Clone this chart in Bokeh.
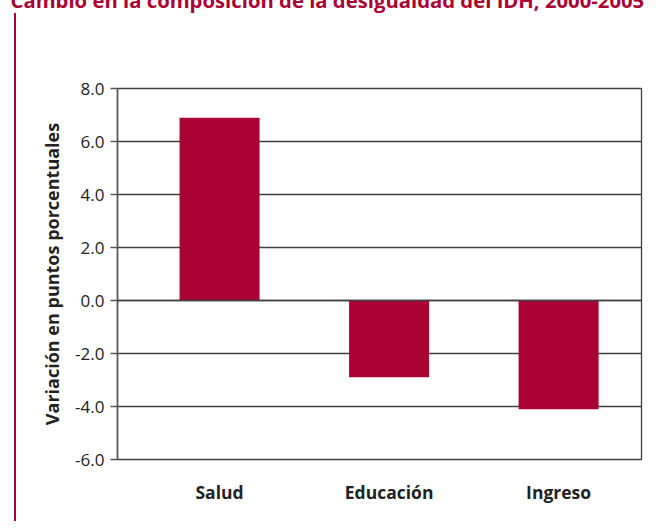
from bokeh.plotting import figure
from bokeh.models import (Range1d, FixedTicker, NumeralTickFormatter, Span,
                          ColumnDataSource)
from bokeh.embed import file_html
from bokeh.resources import INLINE

categories = ["Salud", "Educación", "Ingreso"]
values = [6.9, -2.9, -4.1]
y_ticks = [-6, -4, -2, 0, 2, 4, 6, 8]
title_text = "Cambio en la composición de la desigualdad del IDH, 2000-2005"
y_label = "Variación en puntos porcentuales"

FONT = "Open Sans"
RED = "#AB0234"
M = 92  # part of the canvas pushed above the page top (title is cut there, as in the reference)

xs = list(range(len(categories)))
src = ColumnDataSource(dict(x=xs, top=values, cat=categories))

p = figure(width=660, height=521 + M, output_backend="svg", toolbar_location=None,
           x_range=Range1d(-0.602, 2.489), y_range=Range1d(-6, 8),
           min_border_left=117, min_border_right=19, min_border_top=87 + M,
           min_border_bottom=62)
p.margin = (-M, 0, 0, 0)
p.border_fill_color = None
p.background_fill_color = "white"
p.styles = {
    "background-color": "#ffffff",
    "background-image": f"linear-gradient({RED}, {RED})",
    "background-size": "2px 100%",
    "background-position": f"14px {13 + M}px",
    "background-repeat": "no-repeat",
}

p.title.text = title_text
p.title.text_font = FONT
p.title.text_font_style = "bold"
p.title.text_font_size = "20.3px"
p.title.text_color = RED
p.title.align = "left"
p.title.vertical_align = "bottom"
p.title.offset = -107
p.title.standoff = 150

p.vbar(x="x", top="top", bottom=0, width=0.472, source=src,
       fill_color=RED, line_color=None)

p.add_layout(Span(location=0, dimension="width", line_color="#404040", line_width=1.3))

p.outline_line_color = "#404040"
p.outline_line_width = 1.3
p.xgrid.grid_line_color = None
p.ygrid.ticker = FixedTicker(ticks=y_ticks)
p.ygrid.grid_line_color = "#404040"
p.ygrid.grid_line_width = 1.3
p.ygrid.grid_line_alpha = 1.0

ya = p.yaxis[0]
ya.ticker = FixedTicker(ticks=y_ticks)
ya.formatter = NumeralTickFormatter(format="0.0")
ya.axis_line_color = "#555555"
ya.axis_line_width = 1.5
ya.major_tick_line_color = "#555555"
ya.major_tick_line_width = 1.3
ya.major_tick_out = 7
ya.major_tick_in = 0
ya.minor_tick_line_color = None
ya.major_label_text_font = FONT
ya.major_label_text_font_size = "17px"
ya.major_label_text_color = "#222222"
ya.major_label_standoff = 6
ya.axis_label = y_label
ya.axis_label_text_font = FONT
ya.axis_label_text_font_style = "bold"
ya.axis_label_text_font_size = "18px"
ya.axis_label_text_color = "#222222"
ya.axis_label_standoff = 8

xa = p.xaxis[0]
xa.ticker = FixedTicker(ticks=xs)
xa.major_label_overrides = {i: c for i, c in zip(xs, categories)}
xa.axis_line_color = None
xa.major_tick_line_color = None
xa.minor_tick_line_color = None
xa.major_label_text_font = FONT
xa.major_label_text_font_style = "bold"
xa.major_label_text_font_size = "17.5px"
xa.major_label_text_color = "#222222"
xa.major_label_standoff = 14

open("out.html", "w").write(file_html(p, INLINE))
